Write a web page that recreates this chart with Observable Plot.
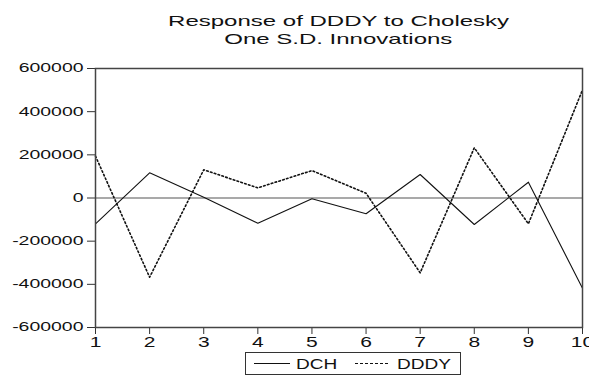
<!DOCTYPE html>
<html>
<head>
<meta charset="utf-8">
<script src="https://cdn.jsdelivr.net/npm/d3@7"></script>
<script src="https://cdn.jsdelivr.net/npm/@observablehq/plot@0.6"></script>
<style>
  html, body { margin: 0; padding: 0; background: #fff; }
  body { width: 589px; height: 378px; overflow: hidden; font-family: "Liberation Sans", Arial, sans-serif; color: #111; }
  #title { height: 58px; box-sizing: border-box; padding-top: 12px; margin-left: 95px; width: 487px; font-size: 15px; line-height: 18px; }
  #title div { text-align: center; white-space: nowrap; }
  #title span { display: inline-block; transform: scaleX(1.6); transform-origin: center; }
  #chart svg { display: block; }
  #legend { position: relative; height: 28px; }
  #legend .box { position: absolute; left: 245px; top: 2px; width: 216px; height: 23px; border: 1px solid #333; box-sizing: border-box; }
  #legend .item { position: absolute; top: 1px; font-size: 15px; line-height: 20px; white-space: nowrap; }
  #legend .item span { display: inline-block; transform: scaleX(1.27); transform-origin: left center; }
  #legend .solid { position: absolute; top: 10px; height: 0; border-top: 1px solid #111; }
  #legend .dash { position: absolute; top: 10px; height: 0; border-top: 1px dashed #111; }
</style>
</head>
<body>
<div id="title">
  <div><span>Response of DDDY to Cholesky</span></div>
  <div><span>One S.D. Innovations</span></div>
</div>
<div id="chart"></div>
<div id="legend"></div>
<script>
const periods = [1, 2, 3, 4, 5, 6, 7, 8, 9, 10];
const dch  = [-119500, 116800, 4000, -116800, -3700, -73000, 108900, -122800, 73200, -418000];
const dddy = [194000, -367000, 130600, 47000, 127000, 22000, -346500, 232600, -119500, 501000];
const yTicks = [-600000, -400000, -200000, 0, 200000, 400000, 600000];
const seriesNames = ["DCH", "DDDY"];

const rows = periods.map((p, i) => ({period: p, DCH: dch[i], DDDY: dddy[i]}));

const chart = Plot.plot({
  width: 589,
  height: 292,
  marginLeft: 95,
  marginRight: 7,
  marginTop: 10,
  marginBottom: 23,
  x: {domain: [1, 10]},
  y: {domain: [-600000, 600000]},
  style: {background: "#fff", fontFamily: "'Liberation Sans', Arial, sans-serif", color: "#111", overflow: "visible"},
  marks: [
    Plot.ruleY([0], {stroke: "#555", strokeWidth: 1.2}),
    Plot.axisY({ticks: yTicks, tickFormat: d => String(d), tickSize: 8, tickPadding: 4, fontSize: 12, label: null, stroke: "#333"}),
    Plot.axisX({ticks: periods, tickFormat: d => String(d), tickSize: 7, tickPadding: 3, fontSize: 14, label: null, stroke: "#333"}),
    Plot.line(rows, {x: "period", y: "DCH", stroke: "#111", strokeWidth: 1.1}),
    Plot.line(rows, {x: "period", y: "DDDY", stroke: "#111", strokeWidth: 1.6, strokeDasharray: "1.6,2.4"}),
    Plot.frame({stroke: "#444", strokeWidth: 1.5})
  ]
});
document.getElementById("chart").appendChild(chart);

// horizontally stretch tick labels (the reference image is stretched)
function stretch(sel, s) {
  chart.querySelectorAll(sel).forEach(t => {
    const len = t.getComputedTextLength();
    t.setAttribute("textLength", (len * s).toFixed(2));
    t.setAttribute("lengthAdjust", "spacingAndGlyphs");
  });
}
stretch('g[aria-label="y-axis tick label"] text', 1.62);
stretch('g[aria-label="x-axis tick label"] text', 1.5);

// legend below the chart
const legend = document.getElementById("legend");
const box = document.createElement("div");
box.className = "box";
legend.appendChild(box);
const items = [
  {name: seriesNames[0], cls: "solid", sx: 8, sw: 36, tx: 50},
  {name: seriesNames[1], cls: "dash", sx: 109, sw: 33, tx: 151}
];
items.forEach(it => {
  const ln = document.createElement("div");
  ln.className = it.cls;
  ln.style.left = it.sx + "px";
  ln.style.width = it.sw + "px";
  box.appendChild(ln);
  const lab = document.createElement("div");
  lab.className = "item";
  lab.style.left = it.tx + "px";
  const sp = document.createElement("span");
  sp.textContent = it.name;
  lab.appendChild(sp);
  box.appendChild(lab);
});
</script>
</body>
</html>
